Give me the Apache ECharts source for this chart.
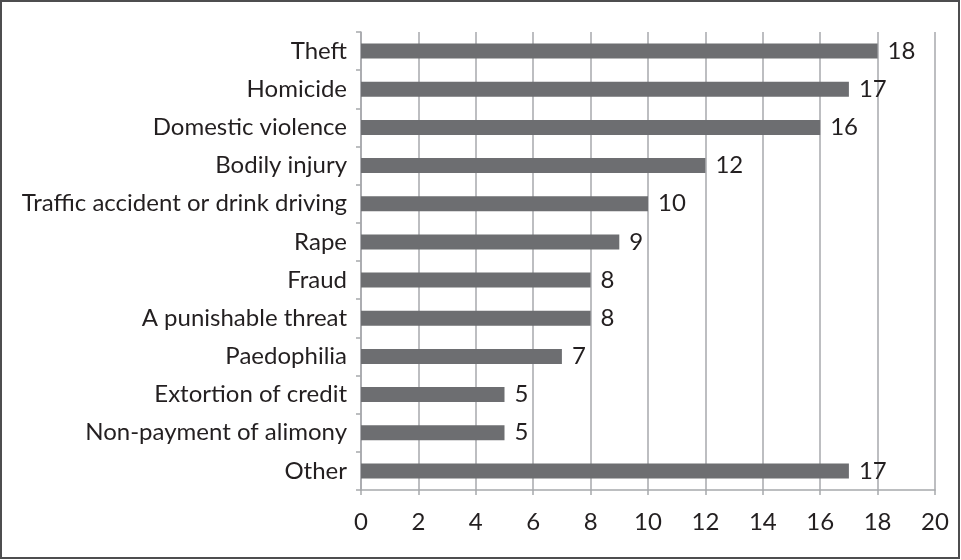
<!DOCTYPE html>
<html><head><meta charset="utf-8">
<script src="https://cdn.jsdelivr.net/npm/echarts@6/dist/echarts.min.js"></script>
<style>html,body{margin:0;padding:0;background:#fff}#c{width:961px;height:560px}</style>
</head><body><div id="c"></div>
<script>
const categories = ["Theft","Homicide","Domestic violence","Bodily injury","Traffic accident or drink driving","Rape","Fraud","A punishable threat","Paedophilia","Extortion of credit","Non-payment of alimony","Other"];
const values = [18,17,16,12,10,9,8,8,7,5,5,17];
const xTicks = [0,2,4,6,8,10,12,14,16,18,20];

const chart = echarts.init(document.getElementById('c'));
const font = 'Lato, "Open Sans", sans-serif';
chart.setOption({
  animation: false,
  grid: {left: 361, right: 26, top: 32, bottom: 70, containLabel: false},
  graphic: [{type:'rect', shape:{x:1, y:1, width:958, height:557}, style:{fill:'none', stroke:'#4d4d4f', lineWidth:2}, silent:true, z:100}],
  xAxis: {
    type: 'value', min: xTicks[0], max: xTicks[xTicks.length-1], interval: 2,
    axisLine: {show: true, lineStyle: {color: '#a7a9ac', width: 1.5}},
    axisTick: {show: true, length: 5, lineStyle: {color: '#a7a9ac', width: 1.5}},
    splitLine: {show: true, lineStyle: {color: '#a7a9ac', width: 1.5}},
    axisLabel: {color: '#231f20', fontSize: 24, fontFamily: font, margin: 20}
  },
  yAxis: {
    type: 'category', data: categories, inverse: true,
    axisLine: {show: true, lineStyle: {color: '#a7a9ac', width: 1.5}},
    axisTick: {show: true, length: 5, lineStyle: {color: '#a7a9ac', width: 1.5}},
    axisLabel: {color: '#231f20', fontSize: 24, fontFamily: font, margin: 14}
  },
  series: [{
    type: 'bar', data: values, barWidth: 15,
    itemStyle: {color: '#6d6e71'},
    label: {show: true, position: 'right', distance: 10, color: '#231f20', fontSize: 24, fontFamily: font}
  }]
});
</script></body></html>
